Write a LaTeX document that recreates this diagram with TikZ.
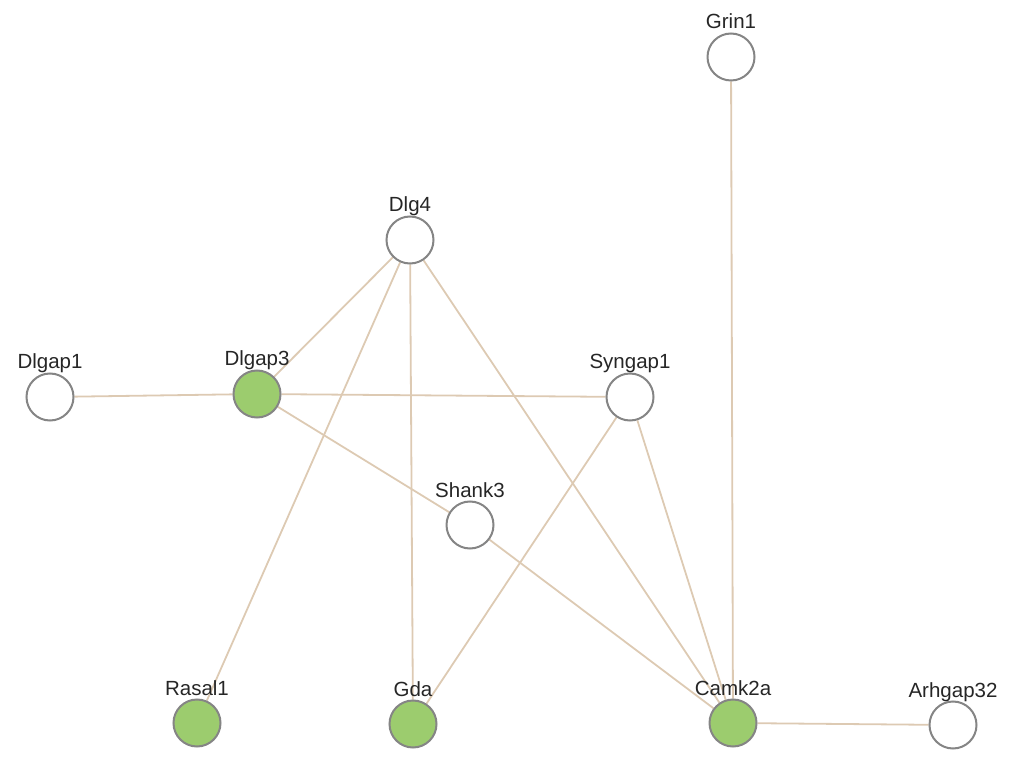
\documentclass[tikz,border=0pt]{standalone}
\usepackage{fontspec}
\setmainfont{Liberation Sans}
\usetikzlibrary{backgrounds}
\definecolor{edgec}{HTML}{DDCAB3}
\definecolor{nodeg}{HTML}{9CCC6E}
\definecolor{ringc}{HTML}{858585}
\begin{document}
\begin{tikzpicture}[x=1pt,y=1pt,
  gene/.style={circle,draw=ringc,line width=2pt,fill=white,minimum size=47pt,inner sep=0pt},
  hit/.style={gene,fill=nodeg},
  lbl/.style={anchor=base,inner sep=0pt,font=\fontsize{20.5}{24}\selectfont,text=black!85},
  edge/.style={draw=edgec,line width=1.8pt}]
\useasboundingbox (0,0) rectangle (1012,756);
% nodes (y = 756 - pixel y)
\node[gene] (grin1) at (731,699) {};
\node[gene] (dlg4) at (410,516) {};
\node[gene] (dlgap1) at (50,359) {};
\node[hit] (dlgap3) at (257,362) {};
\node[gene] (syngap1) at (630,359) {};
\node[gene] (shank3) at (470,231) {};
\node[hit] (rasal1) at (197,33) {};
\node[hit] (gda) at (413,32) {};
\node[hit] (camk2a) at (733,33) {};
\node[gene] (arhgap32) at (953,31) {};
% edges
\begin{scope}[on background layer]
\draw[edge] (grin1) -- (camk2a);
\draw[edge] (dlg4) -- (dlgap3);
\draw[edge] (dlg4) -- (rasal1);
\draw[edge] (dlg4) -- (gda);
\draw[edge] (dlg4) -- (camk2a);
\draw[edge] (dlgap1) -- (dlgap3);
\draw[edge] (dlgap3) -- (syngap1);
\draw[edge] (dlgap3) -- (shank3);
\draw[edge] (shank3) -- (camk2a);
\draw[edge] (syngap1) -- (gda);
\draw[edge] (syngap1) -- (camk2a);
\draw[edge] (camk2a) -- (arhgap32);
\end{scope}
% labels
\node[lbl] (grin1-l) at ([yshift=28pt]grin1.center) {Grin1};
\node[lbl] (dlg4-l) at ([yshift=28pt]dlg4.center) {Dlg4};
\node[lbl] (dlgap1-l) at ([yshift=28pt]dlgap1.center) {Dlgap1};
\node[lbl] (dlgap3-l) at ([yshift=28pt]dlgap3.center) {Dlgap3};
\node[lbl] (syngap1-l) at ([yshift=28pt]syngap1.center) {Syngap1};
\node[lbl] (shank3-l) at ([yshift=28pt]shank3.center) {Shank3};
\node[lbl] (rasal1-l) at ([yshift=28pt]rasal1.center) {Rasal1};
\node[lbl] (gda-l) at ([yshift=28pt]gda.center) {Gda};
\node[lbl] (camk2a-l) at ([yshift=28pt]camk2a.center) {Camk2a};
\node[lbl] (arhgap32-l) at ([yshift=28pt]arhgap32.center) {Arhgap32};
\end{tikzpicture}
\end{document}
